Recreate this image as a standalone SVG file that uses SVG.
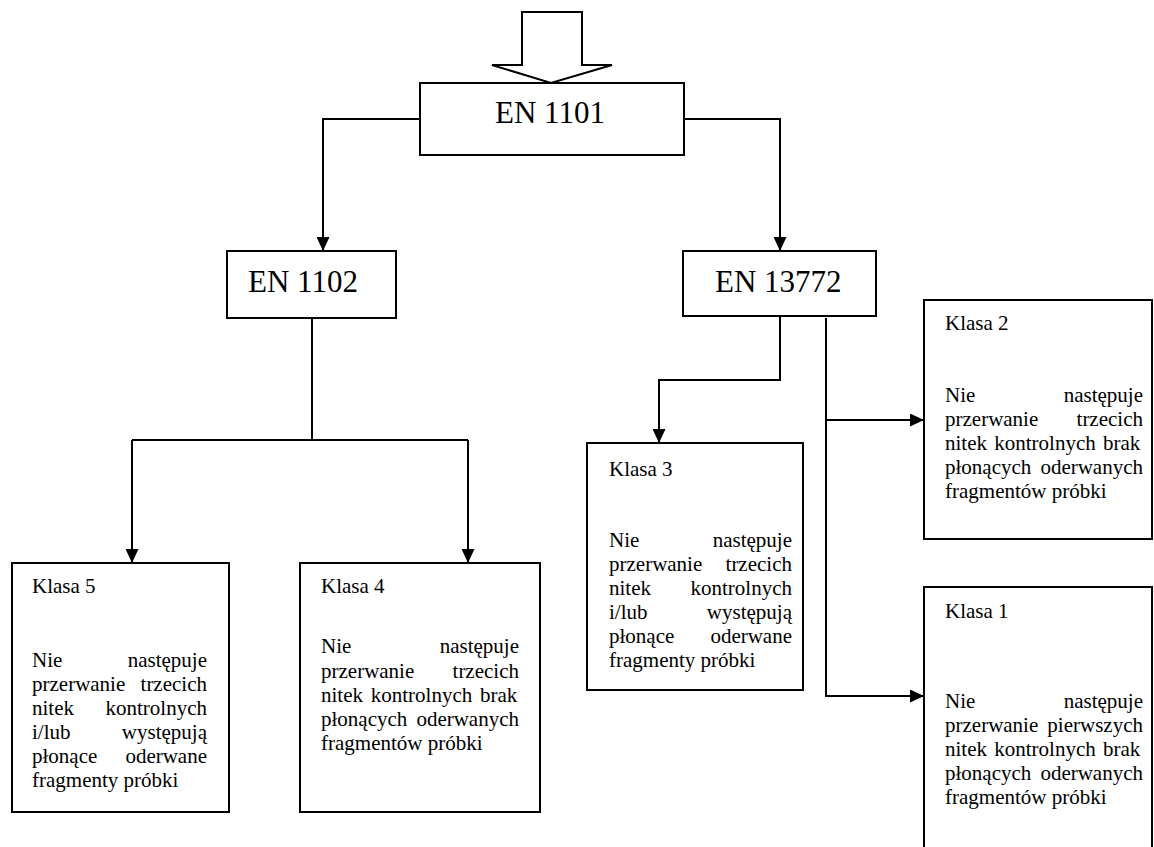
<svg xmlns="http://www.w3.org/2000/svg" width="1154" height="847" viewBox="0 0 1154 847">
<defs>
<style>
.box{fill:#fff;stroke:#000;stroke-width:2}
.ln{fill:none;stroke:#000;stroke-width:2}
.big{font-family:"Liberation Serif","Times New Roman",serif;font-size:31px;fill:#000}
.t{font-family:"Liberation Serif","Times New Roman",serif;font-size:21px;fill:#000}
.e{text-anchor:end}
</style>
<marker id="ah" markerUnits="userSpaceOnUse" markerWidth="14" markerHeight="13" refX="14" refY="6.5" orient="auto">
<path d="M0,0 L14,6.5 L0,13 z" fill="#000"/>
</marker>
</defs>
<rect width="1154" height="847" fill="#fff"/>

<g id="input-arrow">
<polygon class="box" points="522,12 582,12 582,65 612,65 551,83 492,65 522,65"/>
</g>

<g id="connectors">
<path class="ln" d="M420,119 H323 V251" marker-end="url(#ah)"/>
<path class="ln" d="M684,119 H780 V251" marker-end="url(#ah)"/>
<path class="ln" d="M312,318 V440"/>
<path class="ln" d="M132,440 H468"/>
<path class="ln" d="M132,440 V563" marker-end="url(#ah)"/>
<path class="ln" d="M468,440 V563" marker-end="url(#ah)"/>
<path class="ln" d="M780,316 V380 H659 V443" marker-end="url(#ah)"/>
<path class="ln" d="M826,318 V696 H924" marker-end="url(#ah)"/>
<path class="ln" d="M826,420 H924" marker-end="url(#ah)"/>
</g>

<g id="en1101">
<rect class="box" x="420" y="83" width="264" height="72"/>
<text class="big" x="495" y="123">EN 1101</text>
</g>

<g id="en1102">
<rect class="box" x="227" y="251" width="169" height="67"/>
<text class="big" x="248" y="292">EN 1102</text>
</g>

<g id="en13772">
<rect class="box" x="683" y="251" width="193" height="65"/>
<text class="big" x="715" y="292">EN 13772</text>
</g>

<g id="klasa5">
<rect class="box" x="12" y="563" width="217" height="249"/>
<text class="t" x="32" y="593">Klasa 5</text>
<text class="t" x="32" y="667">Nie</text><text class="t e" x="207" y="667">następuje</text>
<text class="t" x="32" y="691">przerwanie</text><text class="t e" x="207" y="691">trzecich</text>
<text class="t" x="32" y="715">nitek</text><text class="t e" x="207" y="715">kontrolnych</text>
<text class="t" x="32" y="739">i/lub</text><text class="t e" x="207" y="739">występują</text>
<text class="t" x="32" y="763">płonące</text><text class="t e" x="207" y="763">oderwane</text>
<text class="t" x="32" y="787">fragmenty próbki</text>
</g>

<g id="klasa4">
<rect class="box" x="300" y="563" width="240" height="249"/>
<text class="t" x="321" y="593">Klasa 4</text>
<text class="t" x="321" y="653">Nie</text><text class="t e" x="519" y="653">następuje</text>
<text class="t" x="321" y="678">przerwanie</text><text class="t e" x="519" y="678">trzecich</text>
<text class="t" x="321" y="702" word-spacing="2.5">nitek kontrolnych brak</text>
<text class="t" x="321" y="726">płonących</text><text class="t e" x="519" y="726">oderwanych</text>
<text class="t" x="321" y="750">fragmentów próbki</text>
</g>

<g id="klasa3">
<rect class="box" x="587" y="443" width="216" height="247"/>
<text class="t" x="609" y="476">Klasa 3</text>
<text class="t" x="609" y="547">Nie</text><text class="t e" x="792" y="547">następuje</text>
<text class="t" x="609" y="571">przerwanie</text><text class="t e" x="792" y="571">trzecich</text>
<text class="t" x="609" y="595">nitek</text><text class="t e" x="792" y="595">kontrolnych</text>
<text class="t" x="609" y="619">i/lub</text><text class="t e" x="792" y="619">występują</text>
<text class="t" x="609" y="643">płonące</text><text class="t e" x="792" y="643">oderwane</text>
<text class="t" x="609" y="667">fragmenty próbki</text>
</g>

<g id="klasa2">
<rect class="box" x="924" y="300" width="228" height="239"/>
<text class="t" x="945" y="330">Klasa 2</text>
<text class="t" x="945" y="402">Nie</text><text class="t e" x="1143" y="402">następuje</text>
<text class="t" x="945" y="426">przerwanie</text><text class="t e" x="1143" y="426">trzecich</text>
<text class="t" x="945" y="450" word-spacing="2">nitek kontrolnych brak</text>
<text class="t" x="945" y="474">płonących</text><text class="t e" x="1143" y="474">oderwanych</text>
<text class="t" x="945" y="498">fragmentów próbki</text>
</g>

<g id="klasa1">
<rect class="box" x="924" y="587" width="228" height="280"/>
<text class="t" x="945" y="618">Klasa 1</text>
<text class="t" x="945" y="708">Nie</text><text class="t e" x="1143" y="708">następuje</text>
<text class="t" x="945" y="732">przerwanie</text><text class="t e" x="1143" y="732">pierwszych</text>
<text class="t" x="945" y="756" word-spacing="2">nitek kontrolnych brak</text>
<text class="t" x="945" y="780">płonących</text><text class="t e" x="1143" y="780">oderwanych</text>
<text class="t" x="945" y="804">fragmentów próbki</text>
</g>
</svg>
